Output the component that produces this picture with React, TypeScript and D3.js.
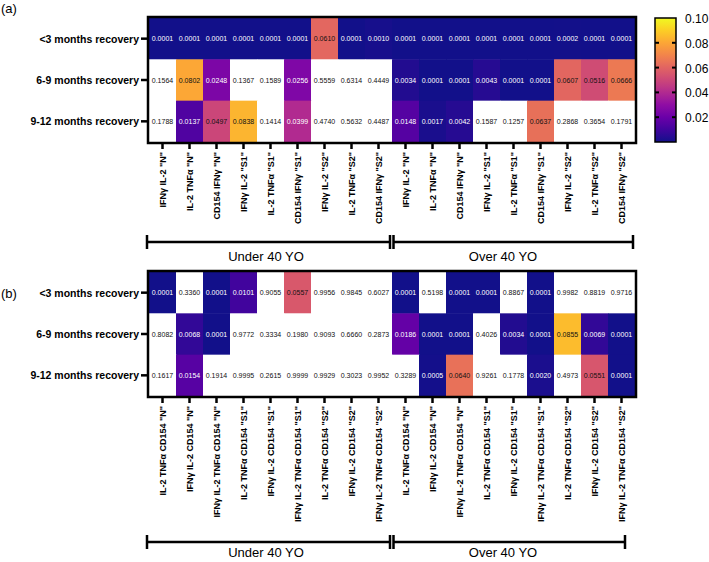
import React from "react";
import * as d3 from "d3";

const rowLabels = ["<3 months recovery", "6-9 months recovery", "9-12 months recovery"];

const colsA = [
  'IFNγ IL-2 "N"', 'IL-2 TNFα "N"', 'CD154 IFNγ "N"',
  'IFNγ IL-2 "S1"', 'IL-2 TNFα "S1"', 'CD154 IFNγ "S1"',
  'IFNγ IL-2 "S2"', 'IL-2 TNFα "S2"', 'CD154 IFNγ "S2"',
  'IFNγ IL-2 "N"', 'IL-2 TNFα "N"', 'CD154 IFNγ "N"',
  'IFNγ IL-2 "S1"', 'IL-2 TNFα "S1"', 'CD154 IFNγ "S1"',
  'IFNγ IL-2 "S2"', 'IL-2 TNFα "S2"', 'CD154 IFNγ "S2"',
];

const colsB = [
  'IL-2 TNFα CD154 "N"', 'IFNγ IL-2 CD154 "N"', 'IFNγ IL-2 TNFα CD154 "N"',
  'IL-2 TNFα CD154 "S1"', 'IFNγ IL-2 CD154 "S1"', 'IFNγ IL-2 TNFα CD154 "S1"',
  'IL-2 TNFα CD154 "S2"', 'IFNγ IL-2 CD154 "S2"', 'IFNγ IL-2 TNFα CD154 "S2"',
  'IL-2 TNFα CD154 "N"', 'IFNγ IL-2 CD154 "N"', 'IFNγ IL-2 TNFα CD154 "N"',
  'IL-2 TNFα CD154 "S1"', 'IFNγ IL-2 CD154 "S1"', 'IFNγ IL-2 TNFα CD154 "S1"',
  'IL-2 TNFα CD154 "S2"', 'IFNγ IL-2 CD154 "S2"', 'IFNγ IL-2 TNFα CD154 "S2"',
];

const aLt3 = [0.0001, 0.0001, 0.0001, 0.0001, 0.0001, 0.0001, 0.0610, 0.0001, 0.0010, 0.0001, 0.0001, 0.0001, 0.0001, 0.0001, 0.0001, 0.0002, 0.0001, 0.0001];
const a69 = [0.1564, 0.0802, 0.0248, 0.1367, 0.1589, 0.0256, 0.5559, 0.6314, 0.4449, 0.0034, 0.0001, 0.0001, 0.0043, 0.0001, 0.0001, 0.0607, 0.0516, 0.0666];
const a912 = [0.1788, 0.0137, 0.0497, 0.0838, 0.1414, 0.0399, 0.4740, 0.5632, 0.4487, 0.0148, 0.0017, 0.0042, 0.1587, 0.1257, 0.0637, 0.2868, 0.3654, 0.1791];

const bLt3 = [0.0001, 0.3360, 0.0001, 0.0101, 0.9055, 0.0557, 0.9956, 0.9845, 0.6027, 0.0001, 0.5198, 0.0001, 0.0001, 0.8867, 0.0001, 0.9982, 0.8819, 0.9716];
const b69 = [0.8082, 0.0068, 0.0001, 0.9772, 0.3334, 0.1980, 0.9093, 0.6660, 0.2873, 0.0186, 0.0001, 0.0001, 0.4026, 0.0034, 0.0001, 0.0855, 0.0069, 0.0001];
const b912 = [0.1617, 0.0154, 0.1914, 0.9995, 0.2615, 0.9999, 0.9929, 0.3023, 0.9952, 0.3289, 0.0005, 0.0640, 0.9261, 0.1778, 0.0020, 0.4973, 0.0551, 0.0001];

const colorTicks = [0.02, 0.04, 0.06, 0.08, 0.10];
const groupLabels = ["Under 40 YO", "Over 40 YO"];

const FONT = "'Liberation Sans', Arial, Helvetica, sans-serif";

const stops = d3.range(0, 1.0001, 0.1).map((t) => d3.interpolatePlasma(t));
stops[0] = "#12108a";
const interp = d3.piecewise(d3.interpolateRgb, stops);
const color = d3.scaleSequential(interp).domain([0, 0.1]);

const X0 = 149;
const X1 = 635;

function Heatmap({ top, cols, rows, label, labelY, bracketY, bracketRight, groupTextY }: any) {
  const bottom = top + 124;
  const x = d3.scaleBand().domain(d3.range(cols.length).map(String)).range([X0, X1]);
  const y = d3.scaleBand().domain(rowLabels).range([top, bottom]);
  const bw = x.bandwidth();
  const splitX = x("9")!;
  return (
    <g>
      <text x={1} y={labelY} fontFamily={FONT} fontSize={13}>{label}</text>
      {rows.map((vals: number[], ri: number) =>
        vals.map((v, ci) => {
          const cx = x(String(ci))!;
          const cy = y(rowLabels[ri])!;
          const fill = v > 0.1 ? "#ffffff" : color(v);
          return (
            <g key={`${ri}-${ci}`}>
              <rect x={cx} y={cy} width={bw + 0.5} height={y.bandwidth() + 0.5} fill={fill} />
              <text
                x={cx + bw / 2}
                y={cy + y.bandwidth() / 2}
                textAnchor="middle"
                dominantBaseline="central"
                fontFamily={FONT}
                fontSize={7}
                fill={v < 0.045 ? "#ffffff" : "#111111"}
              >
                {v.toFixed(4)}
              </text>
            </g>
          );
        })
      )}
      <rect x={X0 - 1} y={top - 1} width={X1 - X0 + 2} height={bottom - top + 2} fill="none" stroke="#000" strokeWidth={2.5} />
      {rowLabels.map((r) => {
        const cy = y(r)! + y.bandwidth() / 2;
        return (
          <g key={r}>
            <line x1={141} x2={X0 - 1} y1={cy} y2={cy} stroke="#000" strokeWidth={2.5} />
            <text x={139} y={cy} textAnchor="end" dominantBaseline="central" fontFamily={FONT} fontWeight="bold" fontSize={10.5}>{r}</text>
          </g>
        );
      })}
      {cols.map((c: string, ci: number) => {
        const cx = x(String(ci))! + bw / 2;
        return (
          <g key={ci}>
            <line x1={cx} x2={cx} y1={bottom + 1} y2={bottom + 7} stroke="#000" strokeWidth={2.5} />
            <text
              transform={`translate(${cx},${bottom + 10}) rotate(-90)`}
              textAnchor="end"
              dominantBaseline="central"
              fontFamily={FONT}
              fontWeight="bold"
              fontSize={9}
            >
              {c}
            </text>
          </g>
        );
      })}
      <g stroke="#000" strokeWidth={2.5}>
        <line x1={147} x2={splitX - 2} y1={bracketY} y2={bracketY} />
        <line x1={147} x2={147} y1={bracketY - 7} y2={bracketY + 7} />
        <line x1={splitX - 2} x2={splitX - 2} y1={bracketY - 7} y2={bracketY + 7} />
        <line x1={splitX + 1.5} x2={bracketRight} y1={bracketY} y2={bracketY} />
        <line x1={splitX + 1.5} x2={splitX + 1.5} y1={bracketY - 7} y2={bracketY + 7} />
        <line x1={bracketRight} x2={bracketRight} y1={bracketY - 7} y2={bracketY + 7} />
      </g>
      <text x={266} y={groupTextY} textAnchor="middle" fontFamily={FONT} fontSize={13}>{groupLabels[0]}</text>
      <text x={503} y={groupTextY} textAnchor="middle" fontFamily={FONT} fontSize={13}>{groupLabels[1]}</text>
    </g>
  );
}

function ColorBar() {
  const cx0 = 655;
  const cx1 = 676;
  const yS = d3.scaleLinear().domain([0, 0.1]).range([142, 18]);
  const gstops = d3.range(0, 1.0001, 0.05);
  return (
    <g>
      <defs>
        <linearGradient id="cbar" x1="0" y1="1" x2="0" y2="0">
          {gstops.map((t) => (
            <stop key={t} offset={`${t * 100}%`} stopColor={color(t * 0.1)} />
          ))}
        </linearGradient>
      </defs>
      <rect x={cx0} y={yS(0.1)} width={cx1 - cx0} height={yS(0) - yS(0.1)} fill="url(#cbar)" stroke="#000" strokeWidth={1.5} />
      {colorTicks.map((t) => (
        <g key={t}>
          {t < 0.1 && (
            <>
              <line x1={cx0} x2={cx0 + 4} y1={yS(t)} y2={yS(t)} stroke="#000" strokeWidth={2} />
              <line x1={cx1 - 4} x2={cx1} y1={yS(t)} y2={yS(t)} stroke="#000" strokeWidth={2} />
            </>
          )}
          <text x={685} y={yS(t) + 1} dominantBaseline="central" fontFamily={FONT} fontSize={12}>{t.toFixed(2)}</text>
        </g>
      ))}
    </g>
  );
}

export default function App() {
  return (
    <svg width={709} height={562} style={{ position: "absolute", left: 0, top: 0, background: "#fff" }}>
      <rect width={709} height={562} fill="#fff" />
      <Heatmap top={18} cols={colsA} rows={[aLt3, a69, a912]} label="(a)" labelY={13} bracketY={242} bracketRight={633} groupTextY={261} />
      <Heatmap top={272} cols={colsB} rows={[bLt3, b69, b912]} label="(b)" labelY={298} bracketY={542} bracketRight={625} groupTextY={557} />
      <ColorBar />
    </svg>
  );
}
